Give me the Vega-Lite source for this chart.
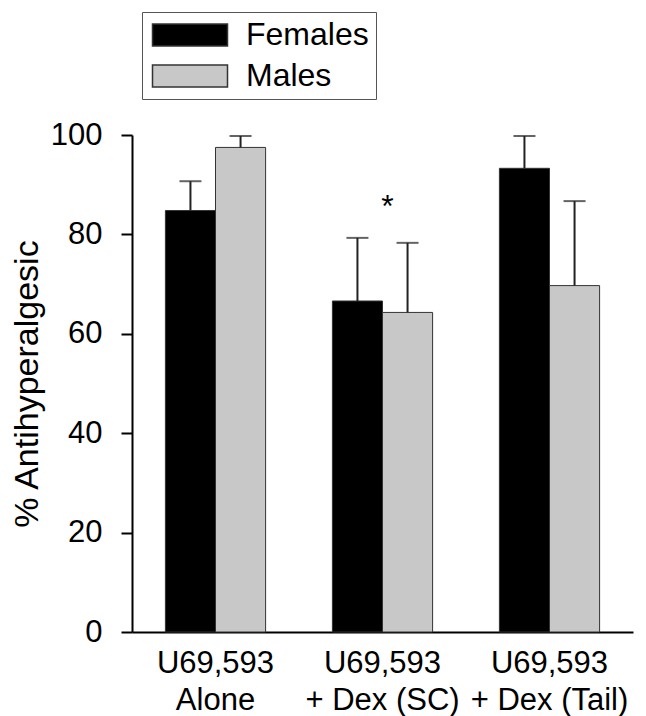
{
  "$schema": "https://vega.github.io/schema/vega-lite/v6.json",
  "width": 501,
  "height": 497,
  "autosize": {"type": "none"},
  "padding": {"left": 132, "top": 135, "right": 13, "bottom": 84},
  "background": "white",
  "config": {
    "view": {"stroke": null},
    "font": "Liberation Sans",
    "axis": {"grid": false, "domainColor": "#000000", "domainWidth": 2, "tickColor": "#000000", "tickWidth": 2, "labelColor": "#000000", "titleColor": "#000000", "labelFont": "Liberation Sans", "titleFont": "Liberation Sans"}
  },
  "data": {
    "values": [
      {"category": "U69,593|Alone", "sex": "Females", "value": 84.8, "upper": 90.7},
      {"category": "U69,593|Alone", "sex": "Males", "value": 97.5, "upper": 99.8},
      {"category": "U69,593|+ Dex (SC)", "sex": "Females", "value": 66.6, "upper": 79.3},
      {"category": "U69,593|+ Dex (SC)", "sex": "Males", "value": 64.3, "upper": 78.3},
      {"category": "U69,593|+ Dex (Tail)", "sex": "Females", "value": 93.3, "upper": 99.8},
      {"category": "U69,593|+ Dex (Tail)", "sex": "Males", "value": 69.7, "upper": 86.7}
    ]
  },
  "encoding": {
    "x": {
      "field": "category", "type": "nominal", "sort": null,
      "scale": {"paddingInner": 0.4, "paddingOuter": 0.2},
      "axis": {"title": null, "labelAngle": 0, "ticks": false, "tickSize": 0, "labelFontSize": 31, "labelLineHeight": 37, "labelPadding": 16, "labelExpr": "split(datum.label, '|')", "labelBaseline": "top"}
    }
  },
  "layer": [
    {
      "mark": {"type": "bar", "stroke": "#333333", "strokeWidth": 1},
      "encoding": {
        "xOffset": {"field": "sex", "type": "nominal", "sort": ["Females", "Males"], "scale": {"paddingInner": 0, "paddingOuter": 0}},
        "y": {
          "field": "value", "type": "quantitative",
          "scale": {"domain": [0, 100], "nice": false},
          "axis": {"title": "% Antihyperalgesic", "titleFontSize": 34, "titleFontWeight": "normal", "titlePadding": 6, "values": [0, 20, 40, 60, 80, 100], "labelFontSize": 31, "tickSize": 11, "labelPadding": 19}
        },
        "color": {
          "field": "sex", "type": "nominal",
          "scale": {"domain": ["Females", "Males"], "range": ["#000000", "#c8c8c8"]},
          "legend": {
            "title": null, "orient": "none", "legendX": 10, "legendY": -123,
            "padding": 7, "strokeColor": "#555555", "fillColor": "white",
            "symbolType": "M-2.5,-0.733H2.5V0.733H-2.5Z", "symbolSize": 900,
            "symbolStrokeColor": "#333333", "symbolStrokeWidth": 1.5,
            "labelFontSize": 32, "labelFont": "Liberation Sans", "labelColor": "#000000",
            "labelOffset": 40, "rowPadding": 9, "symbolOffset": 25
          }
        }
      }
    },
    {
      "mark": {"type": "rule", "color": "#222222", "strokeWidth": 2},
      "encoding": {
        "xOffset": {"field": "sex", "type": "nominal", "sort": ["Females", "Males"]},
        "y": {"field": "value", "type": "quantitative"},
        "y2": {"field": "upper"}
      }
    },
    {
      "mark": {"type": "tick", "color": "#222222", "thickness": 2, "size": 22, "orient": "horizontal"},
      "encoding": {
        "xOffset": {"field": "sex", "type": "nominal", "sort": ["Females", "Males"]},
        "y": {"field": "upper", "type": "quantitative"}
      }
    },
    {
      "data": {"values": [{"category": "U69,593|+ Dex (SC)", "pos": 83.5, "label": "*"}]},
      "mark": {"type": "text", "fontSize": 32, "font": "Liberation Sans", "baseline": "alphabetic", "dx": 5, "color": "#000000"},
      "encoding": {
        "y": {"field": "pos", "type": "quantitative"},
        "text": {"field": "label"}
      }
    }
  ]
}
